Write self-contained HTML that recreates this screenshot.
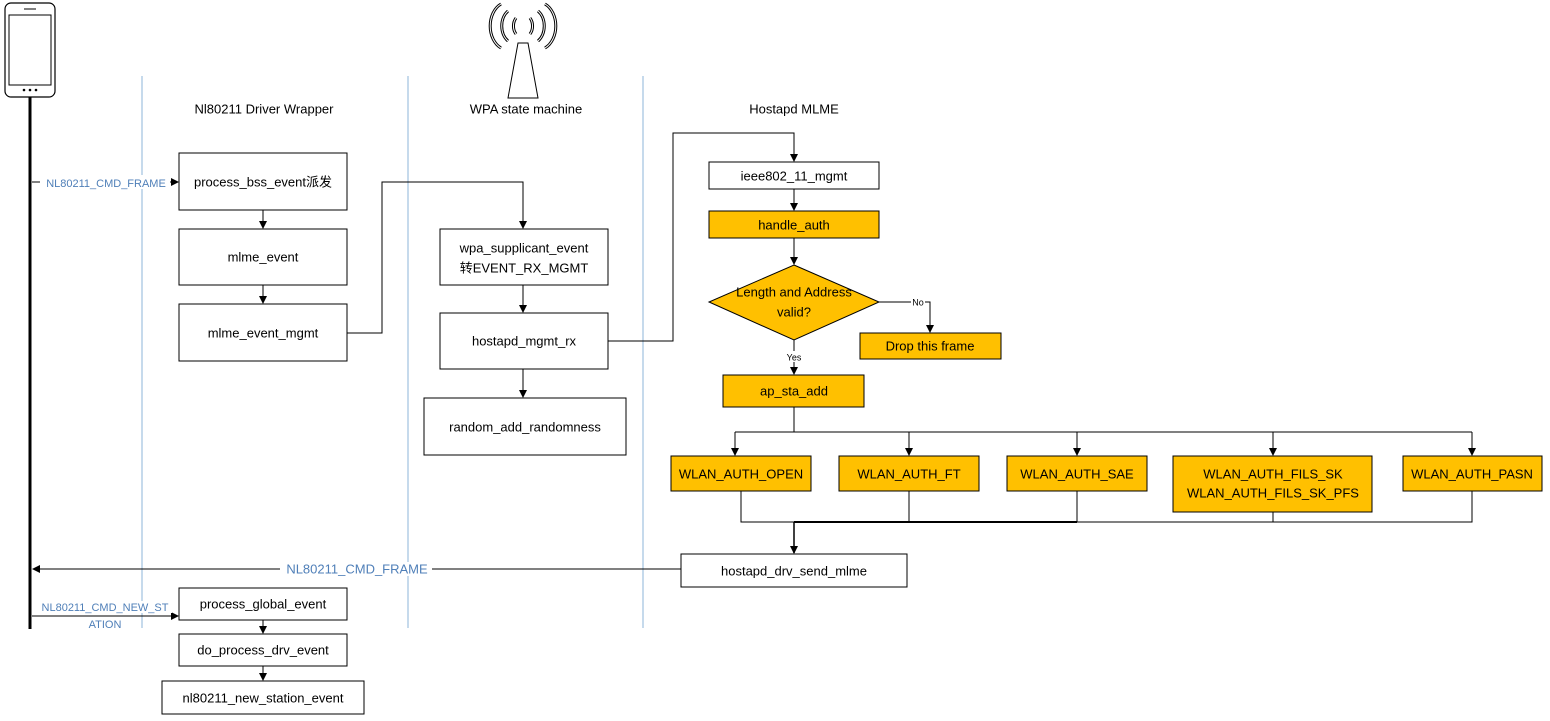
<!DOCTYPE html>
<html><head><meta charset="utf-8"><style>
html,body{margin:0;padding:0;background:#fff;}
svg{display:block;font-family:"Liberation Sans","Noto Sans CJK SC",sans-serif;}
text{transform:translateY(1px);}
.t{font-size:13px;fill:#000;text-anchor:middle;dominant-baseline:middle;}
.b{font-size:11px;fill:#4F7FB8;text-anchor:middle;dominant-baseline:middle;}
.box{fill:#fff;stroke:#000;stroke-width:1;}
.or{fill:#FFC000;stroke:#000;stroke-width:1;}
.ln{fill:none;stroke:#000;stroke-width:1;}
.lane{stroke:#8DB4D8;stroke-width:1;}
</style></head><body>
<svg width="1550" height="721" viewBox="0 0 1550 721">
<defs><marker id="a" markerWidth="8" markerHeight="8" refX="7" refY="4" orient="auto" markerUnits="userSpaceOnUse"><path d="M0,0 L8,4 L0,8z" fill="#000"/></marker></defs>
<!-- phone -->
<rect x="5" y="3" width="50" height="94" rx="6" fill="#fff" stroke="#000" stroke-width="1.2"/>
<rect x="9" y="15" width="42" height="70" fill="#fff" stroke="#000"/>
<line x1="24" y1="9" x2="36" y2="9" stroke="#000"/>
<circle cx="24" cy="90" r="1.3"/><circle cx="30" cy="90" r="1.3"/><circle cx="36" cy="90" r="1.3"/>
<line x1="30" y1="97" x2="30" y2="629" stroke="#000" stroke-width="3"/>
<!-- antenna -->
<path d="M518,43 L528,43 L538,98 L508,98 Z" fill="#fff" stroke="#000"/>
<g fill="none" stroke="#000" stroke-width="3">
<path d="M516,18 A10,12 0 0 0 516,34"/><path d="M530,18 A10,12 0 0 1 530,34"/>
<path d="M508,11 A14,18 0 0 0 508,41"/><path d="M538,11 A14,18 0 0 1 538,41"/>
<path d="M501,4 A18,24 0 0 0 501,48"/><path d="M545,4 A18,24 0 0 1 545,48"/>
</g>
<g fill="none" stroke="#fff" stroke-width="1">
<path d="M516,18 A10,12 0 0 0 516,34"/><path d="M530,18 A10,12 0 0 1 530,34"/>
<path d="M508,11 A14,18 0 0 0 508,41"/><path d="M538,11 A14,18 0 0 1 538,41"/>
<path d="M501,4 A18,24 0 0 0 501,48"/><path d="M545,4 A18,24 0 0 1 545,48"/>
</g>
<!-- lanes -->
<line class="lane" x1="142" y1="76" x2="142" y2="628"/>
<line class="lane" x1="408" y1="76" x2="408" y2="628"/>
<line class="lane" x1="643" y1="76" x2="643" y2="628"/>
<text class="t" x="264" y="109">Nl80211 Driver Wrapper</text>
<text class="t" x="526" y="109">WPA state machine</text>
<text class="t" x="794" y="109">Hostapd MLME</text>
<!-- left lane -->
<line class="ln" x1="32" y1="182" x2="178" y2="182" marker-end="url(#a)"/>
<rect x="40" y="175" width="130" height="14" fill="#fff"/>
<text class="b" x="106" y="183">NL80211_CMD_FRAME</text>
<rect class="box" x="179" y="153" width="168" height="57"/>
<text class="t" x="263" y="182">process_bss_event派发</text>
<line class="ln" x1="263" y1="210" x2="263" y2="228" marker-end="url(#a)"/>
<rect class="box" x="179" y="229" width="168" height="56"/>
<text class="t" x="263" y="257">mlme_event</text>
<line class="ln" x1="263" y1="285" x2="263" y2="303" marker-end="url(#a)"/>
<rect class="box" x="179" y="304" width="168" height="57"/>
<text class="t" x="263" y="333">mlme_event_mgmt</text>
<polyline class="ln" points="347,333 382,333 382,182 523,182 523,228" marker-end="url(#a)"/>
<!-- wpa lane -->
<rect class="box" x="440" y="229" width="168" height="56"/>
<text class="t" x="524" y="248">wpa_supplicant_event</text>
<text class="t" x="524" y="268">转EVENT_RX_MGMT</text>
<line class="ln" x1="523" y1="285" x2="523" y2="312" marker-end="url(#a)"/>
<rect class="box" x="440" y="313" width="168" height="56"/>
<text class="t" x="524" y="341">hostapd_mgmt_rx</text>
<line class="ln" x1="523" y1="369" x2="523" y2="397" marker-end="url(#a)"/>
<rect class="box" x="424" y="398" width="202" height="57"/>
<text class="t" x="525" y="427">random_add_randomness</text>
<polyline class="ln" points="608,341 673,341 673,133 794,133 794,161" marker-end="url(#a)"/>
<!-- hostapd -->
<rect class="box" x="709" y="162" width="170" height="27"/>
<text class="t" x="794" y="176">ieee802_11_mgmt</text>
<line class="ln" x1="794" y1="189" x2="794" y2="210" marker-end="url(#a)"/>
<rect class="or" x="709" y="211" width="170" height="27"/>
<text class="t" x="794" y="225">handle_auth</text>
<line class="ln" x1="794" y1="238" x2="794" y2="264" marker-end="url(#a)"/>
<path class="or" d="M794,265 L879,302 L794,340 L709,302 Z"/>
<text class="t" x="794" y="292">Length and Address</text>
<text class="t" x="794" y="312">valid?</text>
<polyline class="ln" points="879,302 930,302 930,332" marker-end="url(#a)"/>
<rect x="911" y="296" width="14" height="11" fill="#fff"/>
<text x="918" y="302" font-size="9" text-anchor="middle" dominant-baseline="middle">No</text>
<rect class="or" x="860" y="333" width="141" height="26"/>
<text class="t" x="930" y="346">Drop this frame</text>
<line class="ln" x1="794" y1="340" x2="794" y2="374" marker-end="url(#a)"/>
<rect x="784" y="351" width="20" height="11" fill="#fff"/>
<text x="794" y="357" font-size="9" text-anchor="middle" dominant-baseline="middle">Yes</text>
<rect class="or" x="723" y="375" width="141" height="32"/>
<text class="t" x="794" y="391">ap_sta_add</text>
<polyline class="ln" points="794,407 794,432"/>
<line class="ln" x1="735" y1="432" x2="1472" y2="432"/>
<line class="ln" x1="735" y1="432" x2="735" y2="455" marker-end="url(#a)"/>
<line class="ln" x1="909" y1="432" x2="909" y2="455" marker-end="url(#a)"/>
<line class="ln" x1="1077" y1="432" x2="1077" y2="455" marker-end="url(#a)"/>
<line class="ln" x1="1273" y1="432" x2="1273" y2="455" marker-end="url(#a)"/>
<line class="ln" x1="1472" y1="432" x2="1472" y2="455" marker-end="url(#a)"/>
<rect class="or" x="671" y="456" width="140" height="35"/><text class="t" x="741" y="474">WLAN_AUTH_OPEN</text>
<rect class="or" x="839" y="456" width="140" height="35"/><text class="t" x="909" y="474">WLAN_AUTH_FT</text>
<rect class="or" x="1007" y="456" width="140" height="35"/><text class="t" x="1077" y="474">WLAN_AUTH_SAE</text>
<rect class="or" x="1173" y="456" width="199" height="56"/><text class="t" x="1273" y="474">WLAN_AUTH_FILS_SK</text><text class="t" x="1273" y="493">WLAN_AUTH_FILS_SK_PFS</text>
<rect class="or" x="1403" y="456" width="139" height="35"/><text class="t" x="1472" y="474">WLAN_AUTH_PASN</text>
<polyline class="ln" stroke="#555" points="741,491 741,522 1472,522 1472,491"/>
<line class="ln" x1="909" y1="491" x2="909" y2="522"/>
<line class="ln" x1="1077" y1="491" x2="1077" y2="522"/>
<line class="ln" x1="1273" y1="512" x2="1273" y2="522"/>
<line x1="794" y1="522" x2="1077" y2="522" stroke="#000" stroke-width="2"/>
<line x1="794" y1="522" x2="794" y2="553" stroke="#000" stroke-width="1.5" marker-end="url(#a)"/>
<rect class="box" x="681" y="554" width="226" height="33"/>
<text class="t" x="794" y="571">hostapd_drv_send_mlme</text>
<line class="ln" x1="681" y1="569" x2="33" y2="569" marker-end="url(#a)"/>
<rect x="280" y="562" width="152" height="14" fill="#fff"/>
<text class="b" x="357" y="569" font-size="13" style="font-size:13px">NL80211_CMD_FRAME</text>
<!-- bottom left -->
<line class="ln" x1="32" y1="616" x2="178" y2="616" marker-end="url(#a)"/>
<rect x="36" y="601" width="136" height="12" fill="#fff"/>
<text class="b" x="105" y="607">NL80211_CMD_NEW_ST</text>
<text class="b" x="105" y="624">ATION</text>
<rect class="box" x="179" y="588" width="168" height="32"/>
<text class="t" x="263" y="604">process_global_event</text>
<line class="ln" x1="263" y1="620" x2="263" y2="633" marker-end="url(#a)"/>
<rect class="box" x="179" y="634" width="168" height="32"/>
<text class="t" x="263" y="650">do_process_drv_event</text>
<line class="ln" x1="263" y1="666" x2="263" y2="680" marker-end="url(#a)"/>
<rect class="box" x="162" y="681" width="202" height="33"/>
<text class="t" x="263" y="698">nl80211_new_station_event</text>
</svg>
</body></html>
